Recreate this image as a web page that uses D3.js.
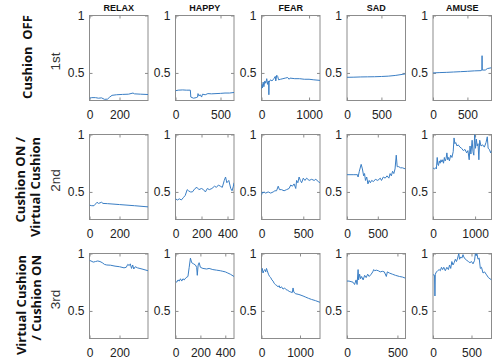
<!DOCTYPE html>
<html>
<head>
<meta charset="utf-8">
<script src="https://cdn.jsdelivr.net/npm/d3@7"></script>
<style>
  body { margin: 0; background: #fff; }
  svg { display: block; }
</style>
</head>
<body>
<svg id="chart" width="497" height="360"></svg>
<script>
const emotions = ["RELAX", "HAPPY", "FEAR", "SAD", "AMUSE"];
const sessions = ["1st", "2nd", "3rd"];
const conditions = [["Cushion  OFF"], ["Cushion ON /", "Virtual Cushion"], ["Virtual Cushion", "/ Cushion ON"]];

// length of each recording (x axis max), per session and emotion
const durations = [
  [390, 650, 1230, 850, 850],
  [390, 450, 700, 950, 1390],
  [390, 470, 1520, 580, 760]
];
const xTicks = [
  [[0, 200], [0, 500], [0, 1000], [0, 500], [0, 500]],
  [[0, 200], [0, 200, 400], [0, 500], [0, 500], [0, 1000]],
  [[0, 200], [0, 200, 400], [0, 1000], [0, 500], [0, 500]]
];
const yTicks = [0.5, 1];
const yRange = [0.26, 1];

// session 1 : cushion off
const relax1 = [[0,0.28],[15,0.285],[40,0.285],[60,0.28],[80,0.283],[100,0.27],[120,0.272],[135,0.29],[150,0.305],[180,0.31],[220,0.313],[260,0.315],[290,0.325],[300,0.318],[340,0.315],[390,0.312]];
const happy1 = [[0,0.345],[30,0.35],[80,0.352],[120,0.35],[165,0.35],[170,0.29],[200,0.28],[230,0.285],[245,0.29],[250,0.32],[260,0.30],[275,0.31],[290,0.29],[300,0.315],[330,0.31],[360,0.32],[400,0.318],[450,0.32],[500,0.322],[550,0.325],[600,0.325],[650,0.33]];
const fear1 = [[0,0.36],[10,0.40],[20,0.37],[35,0.42],[50,0.38],[70,0.43],[90,0.41],[110,0.45],[130,0.40],[150,0.43],[155,0.31],[160,0.42],[190,0.44],[220,0.43],[260,0.45],[290,0.47],[300,0.43],[320,0.48],[340,0.47],[360,0.44],[400,0.445],[450,0.45],[500,0.455],[550,0.46],[580,0.445],[600,0.455],[700,0.45],[800,0.45],[900,0.445],[1000,0.445],[1100,0.44],[1230,0.435]];
const sad1 = [[0,0.462],[100,0.463],[200,0.465],[300,0.466],[400,0.467],[500,0.469],[600,0.472],[700,0.478],[800,0.487],[850,0.492]];
const amuse1 = [[0,0.50],[100,0.503],[200,0.505],[300,0.508],[400,0.511],[500,0.514],[600,0.518],[700,0.52],[710,0.525],[713,0.65],[716,0.525],[760,0.525],[790,0.538],[850,0.545]];

// session 2 : cushion on / virtual cushion
const relax2 = [[0,0.385],[15,0.38],[30,0.38],[40,0.395],[50,0.41],[60,0.40],[70,0.405],[80,0.41],[90,0.4],[120,0.398],[200,0.39],[300,0.38],[390,0.37]];
const happy2 = [[0,0.44],[15,0.43],[30,0.44],[45,0.43],[60,0.45],[75,0.47],[90,0.52],[100,0.51],[115,0.5],[130,0.5],[150,0.53],[165,0.54],[180,0.52],[200,0.53],[215,0.52],[230,0.5],[245,0.53],[260,0.52],[280,0.53],[300,0.55],[315,0.54],[330,0.56],[345,0.55],[360,0.54],[375,0.6],[385,0.63],[395,0.58],[410,0.6],[425,0.53],[435,0.51],[445,0.55],[450,0.58]];
const fear2 = [[0,0.47],[8,0.5],[15,0.49],[30,0.5],[50,0.49],[80,0.5],[110,0.49],[140,0.5],[160,0.51],[180,0.51],[200,0.55],[215,0.52],[240,0.52],[270,0.51],[300,0.52],[330,0.53],[350,0.56],[370,0.55],[390,0.57],[410,0.53],[420,0.6],[435,0.58],[450,0.63],[465,0.6],[480,0.58],[500,0.62],[520,0.6],[540,0.62],[570,0.6],[600,0.61],[630,0.6],[650,0.61],[680,0.59],[700,0.58]];
const sad2 = [[0,0.65],[100,0.65],[170,0.65],[180,0.63],[200,0.68],[230,0.74],[250,0.7],[270,0.64],[285,0.66],[300,0.6],[320,0.63],[340,0.57],[360,0.6],[380,0.58],[400,0.6],[430,0.59],[460,0.61],[500,0.6],[540,0.62],[560,0.6],[590,0.63],[620,0.62],[650,0.64],[680,0.62],[700,0.66],[720,0.64],[740,0.68],[760,0.66],[780,0.7],[800,0.82],[815,0.72],[840,0.72],[870,0.71],[900,0.71],[950,0.7]];
const amuse2 = [[0,0.71],[30,0.7],[60,0.71],[80,0.7],[100,0.8],[115,0.74],[130,0.73],[150,0.77],[170,0.75],[190,0.78],[210,0.76],[230,0.78],[250,0.75],[270,0.8],[290,0.77],[310,0.79],[330,0.84],[350,0.78],[370,0.8],[390,0.77],[420,0.82],[450,0.8],[480,0.85],[500,0.97],[520,0.92],[540,0.93],[570,0.9],[600,0.91],[640,0.89],[680,0.88],[720,0.86],[760,0.87],[800,0.84],[830,0.86],[860,0.78],[880,0.9],[900,0.83],[930,0.95],[950,0.85],[970,0.82],[990,1.0],[1010,0.88],[1030,0.96],[1050,0.9],[1070,0.92],[1090,0.78],[1110,0.95],[1140,0.9],[1180,0.91],[1220,0.89],[1260,0.93],[1290,0.98],[1310,0.88],[1340,0.87],[1370,0.84],[1390,0.86]];

// session 3 : virtual cushion / cushion on
const relax3 = [[0,0.94],[10,0.935],[25,0.925],[40,0.93],[55,0.935],[70,0.93],[85,0.92],[100,0.905],[115,0.9],[140,0.898],[170,0.89],[200,0.885],[230,0.875],[245,0.88],[255,0.905],[265,0.895],[272,0.91],[280,0.87],[288,0.9],[295,0.865],[305,0.885],[320,0.875],[350,0.865],[390,0.85]];
const happy3 = [[0,0.76],[10,0.75],[20,0.77],[30,0.76],[40,0.78],[50,0.76],[60,0.78],[70,0.77],[85,0.79],[100,0.8],[110,0.88],[120,0.96],[130,0.92],[145,0.91],[160,0.9],[170,0.88],[175,0.81],[182,0.9],[190,0.92],[200,0.88],[220,0.87],[250,0.865],[270,0.87],[300,0.86],[330,0.855],[360,0.85],[380,0.845],[400,0.84],[420,0.83],[440,0.82],[470,0.8]];
const fear3 = [[0,0.84],[20,0.87],[40,0.83],[60,0.85],[90,0.86],[110,0.84],[130,0.87],[150,0.85],[180,0.82],[210,0.8],[240,0.79],[270,0.77],[300,0.76],[330,0.74],[360,0.73],[400,0.72],[430,0.71],[460,0.72],[480,0.70],[520,0.71],[560,0.69],[600,0.7],[640,0.685],[680,0.68],[720,0.67],[760,0.665],[800,0.66],[820,0.7],[840,0.665],[880,0.65],[950,0.645],[1000,0.64],[1080,0.63],[1150,0.62],[1220,0.61],[1300,0.6],[1400,0.59],[1520,0.575]];
const sad3 = [[0,0.76],[20,0.76],[40,0.755],[60,0.75],[75,0.73],[90,0.77],[100,0.73],[110,0.86],[115,0.77],[125,0.82],[135,0.78],[145,0.8],[160,0.77],[175,0.81],[190,0.79],[205,0.82],[220,0.8],[240,0.82],[255,0.84],[265,0.86],[275,0.85],[290,0.855],[310,0.85],[330,0.84],[350,0.845],[370,0.84],[390,0.8],[400,0.84],[420,0.83],[450,0.82],[480,0.81],[520,0.8],[550,0.795],[580,0.785]];
const amuse3 = [[0,0.82],[10,0.81],[20,0.81],[25,0.63],[30,0.82],[45,0.84],[60,0.85],[80,0.86],[95,0.85],[110,0.88],[125,0.86],[140,0.88],[160,0.85],[180,0.88],[200,0.86],[215,0.9],[230,0.87],[245,0.93],[260,0.9],[275,0.92],[290,0.95],[305,0.93],[320,0.96],[335,1.0],[345,0.95],[360,0.97],[375,0.96],[390,0.99],[400,0.97],[420,0.95],[440,0.94],[460,0.93],[480,0.92],[500,0.93],[520,0.91],[540,0.94],[550,1.0],[560,0.98],[570,1.0],[585,0.95],[600,0.96],[615,0.87],[630,0.88],[650,0.83],[670,0.84],[690,0.82],[720,0.79],[760,0.77]];

const series = [
  [relax1, happy1, fear1, sad1, amuse1],
  [relax2, happy2, fear2, sad2, amuse2],
  [relax3, happy3, fear3, sad3, amuse3]
];

const svg = d3.select("#chart");
const panelW = 58.5;
const panelH = 85;
const colLeft = [89.5, 175.5, 261.5, 347, 433];
const rowTop = [15.5, 134.5, 253.5];
const lineColor = "#3a7ec4";
const boxColor = "#8c8c8c";
const tickFont = "'Liberation Sans', Arial, sans-serif";

svg.append("defs").append("clipPath").attr("id", "panel-clip")
  .append("rect").attr("width", panelW).attr("height", panelH);

sessions.forEach((session, r) => {
  emotions.forEach((emotion, c) => {
    const x = d3.scaleLinear().domain([0, durations[r][c]]).range([0, panelW]);
    const y = d3.scaleLinear().domain(yRange).range([panelH, 0]);
    const g = svg.append("g").attr("transform", `translate(${colLeft[c]},${rowTop[r]})`);

    const bottom = g.append("g").attr("transform", `translate(0,${panelH})`)
      .call(d3.axisBottom(x).tickValues(xTicks[r][c]).tickSizeInner(-3).tickSizeOuter(0).tickPadding(10).tickFormat(d3.format("d")));
    const top = g.append("g")
      .call(d3.axisTop(x).tickValues(xTicks[r][c]).tickSizeInner(-3).tickSizeOuter(0).tickFormat(""));
    const left = g.append("g")
      .call(d3.axisLeft(y).tickValues(yTicks).tickSizeInner(-3).tickSizeOuter(0).tickPadding(5).tickFormat(d3.format("")));
    const right = g.append("g").attr("transform", `translate(${panelW},0)`)
      .call(d3.axisRight(y).tickValues(yTicks).tickSizeInner(-3).tickSizeOuter(0).tickFormat(""));

    [bottom, top, left, right].forEach(a => {
      a.select(".domain").remove();
      a.selectAll(".tick line").attr("stroke", boxColor);
      a.selectAll(".tick text").attr("fill", "#222").style("font-family", tickFont).style("font-size", "12px");
    });

    g.append("rect")
      .attr("width", panelW).attr("height", panelH)
      .attr("fill", "none").attr("stroke", boxColor).attr("stroke-width", 1);

    const line = d3.line().x(d => x(d[0])).y(d => y(d[1]));
    g.append("path")
      .datum(series[r][c])
      .attr("clip-path", "url(#panel-clip)")
      .attr("fill", "none")
      .attr("stroke", lineColor)
      .attr("stroke-width", 1)
      .attr("stroke-linejoin", "round")
      .attr("d", line);

    if (r === 0) {
      svg.append("text")
        .attr("x", colLeft[c] + panelW / 2).attr("y", 10.5)
        .attr("text-anchor", "middle")
        .style("font-family", tickFont).style("font-size", "9px").style("font-weight", "bold")
        .attr("fill", "#111")
        .text(emotion);
    }
  });

  // session label next to the y axis
  svg.append("text")
    .attr("transform", `translate(59.5,${rowTop[r] + 46}) rotate(-90)`)
    .attr("text-anchor", "middle")
    .style("font-family", tickFont).style("font-size", "13.5px")
    .attr("fill", "#333")
    .text(session);
});

// condition labels at the far left
const condPos = [
  {x: [32], y: 57, anchor: "middle"},
  {x: [25, 40], y: 137, anchor: "end"},
  {x: [26, 41], y: 255, anchor: "end"}
];
conditions.forEach((lines, r) => {
  lines.forEach((txt, i) => {
    svg.append("text")
      .attr("transform", `translate(${condPos[r].x[i]},${condPos[r].y}) rotate(-90)`)
      .attr("text-anchor", condPos[r].anchor)
      .style("font-family", "'Open Sans', sans-serif").style("font-size", "13px").style("font-weight", "bold")
      .style("white-space", "pre")
      .attr("fill", "#111")
      .text(txt);
  });
});
</script>
</body>
</html>
